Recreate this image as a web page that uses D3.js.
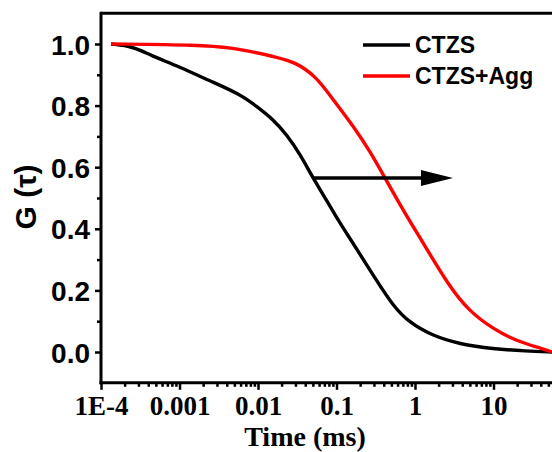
<!DOCTYPE html>
<html>
<head>
<meta charset="utf-8">
<script src="https://cdn.jsdelivr.net/npm/d3@7"></script>
<style>
  html, body { margin: 0; padding: 0; background: #fff; }
  svg { display: block; }
</style>
</head>
<body>
<svg id="chart" width="552" height="452"></svg>
<script>
// Correlation curves G(tau) vs lag time (ms)
const ctzsTime = [1.34e-4, 2.56e-4, 4.2e-4, 0.001, 0.00245, 0.0059, 0.0097, 0.0155, 0.0234, 0.0343, 0.0502, 0.0757, 0.111, 0.149, 0.177, 0.318, 0.525, 0.84, 1.7, 3.64, 9.9, 26, 55.6];
const ctzsG    = [1.0, 0.992, 0.964, 0.926, 0.88, 0.837, 0.797, 0.756, 0.705, 0.642, 0.565, 0.490, 0.418, 0.368, 0.338, 0.235, 0.150, 0.096, 0.052, 0.026, 0.01, 0.003, 0.0];

const aggTime = [1.34e-4, 0.00182, 0.00481, 0.00863, 0.0169, 0.0305, 0.0548, 0.0902, 0.162, 0.267, 0.415, 0.703, 1.23, 2.71, 4.88, 9.86, 19.4, 42.8, 55.6];
const aggG    = [1.0, 0.997, 0.987, 0.974, 0.958, 0.94, 0.895, 0.820, 0.735, 0.652, 0.565, 0.461, 0.36, 0.214, 0.133, 0.075, 0.036, 0.01, 0.0];

const seriesNames = ["CTZS", "CTZS+Agg"];
const seriesColors = ["#000000", "#ff0000"];

const xTickValues = [1e-4, 1e-3, 1e-2, 1e-1, 1, 10];
const xTickLabels = ["1E-4", "0.001", "0.01", "0.1", "1", "10"];
const yTickValues = [0.0, 0.2, 0.4, 0.6, 0.8, 1.0];
const yTickLabels = ["0.0", "0.2", "0.4", "0.6", "0.8", "1.0"];

// Shift arrow: from the CTZS curve toward longer times
const arrowG = 0.565;
const arrowFrom = 0.0502, arrowBase = 1.19, arrowTip = 3.05;

const svg = d3.select("#chart");

const x = d3.scaleLog().domain([1e-4, 100]).range([101, 572]);
const y = d3.scaleLinear().domain([-0.1, 1.1]).range([382.8, 13.2]);

const plot = svg.append("g");

// frame: top border
plot.append("line")
  .attr("x1", x(1e-4)).attr("x2", 552)
  .attr("y1", y(1.1)).attr("y2", y(1.1))
  .attr("stroke", "#000").attr("stroke-width", 3);

// curves
const line = d3.line().x(d => x(d[0])).y(d => y(d[1])).curve(d3.curveBasis);
const seriesData = [
  d3.zip(ctzsTime, ctzsG),
  d3.zip(aggTime, aggG)
];
seriesData.forEach((pts, i) => {
  plot.append("path")
    .attr("d", line(pts))
    .attr("fill", "none")
    .attr("stroke", seriesColors[i])
    .attr("stroke-width", 3.4)
    .attr("stroke-linejoin", "round");
});

// x axis: major ticks with labels, minor ticks per decade
const minorX = [];
for (let e = -4; e <= 1; e++) for (let m = 2; m <= 9; m++) minorX.push(m * Math.pow(10, e));
const xMinor = d3.axisBottom(x).tickValues(minorX).tickSize(4).tickFormat("");
const xMajor = d3.axisBottom(x).tickValues(xTickValues).tickSize(7)
  .tickFormat((d, i) => xTickLabels[i]).tickPadding(6);

const gxMinor = svg.append("g").attr("transform", `translate(0,${y(-0.1)})`).call(xMinor);
const gx = svg.append("g").attr("transform", `translate(0,${y(-0.1)})`).call(xMajor);
[gxMinor, gx].forEach(g => {
  g.select(".domain").remove();
  g.selectAll(".tick line").attr("stroke", "#000").attr("stroke-width", 2.5);
});
gx.selectAll(".tick text")
  .attr("fill", "#000")
  .style("font-family", "'Liberation Serif', 'Times New Roman', serif")
  .style("font-weight", "bold")
  .style("font-size", "27px");
svg.append("line")
  .attr("x1", x(1e-4) - 1.5).attr("x2", 552)
  .attr("y1", y(-0.1)).attr("y2", y(-0.1))
  .attr("stroke", "#000").attr("stroke-width", 3);

// y axis
const yMinor = d3.axisLeft(y).tickValues([0.1, 0.3, 0.5, 0.7, 0.9]).tickSize(4).tickFormat("");
const yMajor = d3.axisLeft(y).tickValues(yTickValues).tickSize(6)
  .tickFormat((d, i) => yTickLabels[i]).tickPadding(5);
const gyMinor = svg.append("g").attr("transform", `translate(${x(1e-4)},0)`).call(yMinor);
const gy = svg.append("g").attr("transform", `translate(${x(1e-4)},0)`).call(yMajor);
[gyMinor, gy].forEach(g => {
  g.select(".domain").remove();
  g.selectAll(".tick line").attr("stroke", "#000").attr("stroke-width", 2.5);
});
gy.selectAll(".tick text")
  .attr("fill", "#000")
  .attr("dy", "0.36em")
  .style("font-family", "'Liberation Sans', Arial, sans-serif")
  .style("font-weight", "bold")
  .style("font-size", "28px");
svg.append("line")
  .attr("x1", x(1e-4)).attr("x2", x(1e-4))
  .attr("y1", y(1.1) - 1.5).attr("y2", y(-0.1) + 1.5)
  .attr("stroke", "#000").attr("stroke-width", 3);

// axis titles
svg.append("text")
  .attr("x", 305).attr("y", 446)
  .attr("text-anchor", "middle")
  .style("font-family", "'Liberation Serif', 'Times New Roman', serif")
  .style("font-weight", "bold")
  .style("font-size", "28px")
  .text("Time (ms)");

svg.append("text")
  .attr("transform", "translate(36,197) rotate(-90)")
  .attr("text-anchor", "middle")
  .style("font-family", "'Liberation Sans', Arial, sans-serif")
  .style("font-weight", "bold")
  .style("font-size", "30px")
  .text("G (τ)");

// arrow
const ay = y(arrowG);
svg.append("line")
  .attr("x1", x(arrowFrom)).attr("x2", x(arrowBase) + 2)
  .attr("y1", ay).attr("y2", ay)
  .attr("stroke", "#000").attr("stroke-width", 3.4);
svg.append("path")
  .attr("d", `M${x(arrowBase)},${ay - 8}L${x(arrowTip)},${ay}L${x(arrowBase)},${ay + 8}Z`)
  .attr("fill", "#000");

// legend
const legend = svg.append("g");
seriesNames.forEach((name, i) => {
  const ly = 45 + i * 31;
  legend.append("line")
    .attr("x1", 363).attr("x2", 410)
    .attr("y1", ly).attr("y2", ly)
    .attr("stroke", seriesColors[i]).attr("stroke-width", 3.4);
  legend.append("text")
    .attr("x", 415).attr("y", ly + 8)
    .style("font-family", "'Liberation Sans', Arial, sans-serif")
    .style("font-weight", "bold")
    .style("font-size", "23px")
    .text(name);
});
</script>
</body>
</html>
